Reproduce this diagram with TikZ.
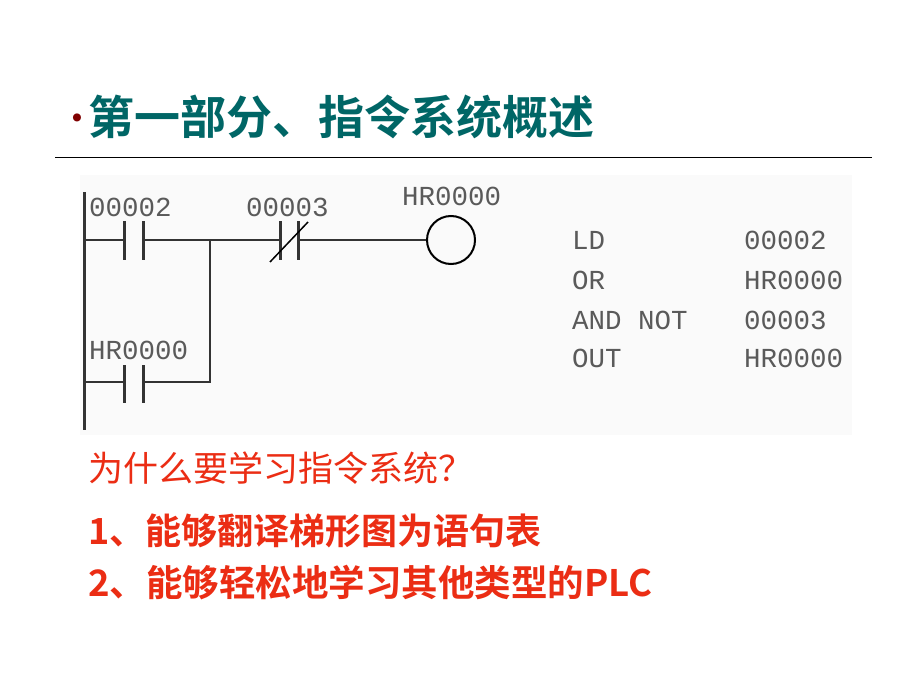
\documentclass[tikz,border=0pt]{standalone}
\usepackage{fontspec}
\newfontfamily\cjk{Noto Sans CJK SC}
\newfontfamily\cjkb{Noto Sans CJK SC Bold}
\newfontfamily\mono{Liberation Mono}
\definecolor{teal1}{RGB}{0,102,102}
\definecolor{red1}{RGB}{235,45,20}
\definecolor{gr}{RGB}{90,90,90}
\begin{document}
\begin{tikzpicture}[x=1pt,y=-1pt,
  lab/.style={font=\mono\fontsize{27.5}{27.5}\selectfont,text=gr,inner sep=0,anchor=west},
  wire/.style={line width=2.2pt,draw=black!80},
  bar/.style={line width=3pt,draw=black!80}]
\useasboundingbox (0,0) rectangle (920,690);
\fill[white] (0,0) rectangle (920,690);
\fill[black!2] (80,175) rectangle (852,435);
% title
\node[inner sep=0,anchor=center,text=red!50!black,font=\fontsize{36}{36}\selectfont] (bul) at (77,121) {•};
\node[inner sep=0,anchor=west,text=teal1,font=\cjkb\fontsize{46}{46}\selectfont] (title) at (88,117) {第一部分、指令系统概述};
\draw[line width=1pt] (55,157) -- (872,157);
% ladder
\coordinate (rt) at (84,192); \coordinate (rb) at (84,430);
\draw[bar] (rt) -- (rb);
\coordinate (a1) at (84,240); \coordinate (c1l) at (124,240); \coordinate (c1r) at (143,240);
\coordinate (br) at (210,240); \coordinate (n1l) at (280,240); \coordinate (n1r) at (298,240);
\coordinate (coil) at (451,240);
\draw[wire] (a1) -- (c1l) (c1r) -- (n1l) (n1r) -- ++(129,0);
\draw[bar] (124,221) -- (124,260) (143,221) -- (143,260);
\draw[bar] (280,221) -- (280,260) (298,221) -- (298,260);
\draw[line width=1.5pt] (270,262) -- (308,222);
\node[draw,circle,line width=2pt,minimum size=48pt,inner sep=0] (co) at (coil) {};
\coordinate (a2) at (84,382); \coordinate (b2) at (210,382);
\draw[wire] (a2) -- (124,382) (143,382) -- (b2) -- (br);
\draw[bar] (124,365) -- (124,403) (143,365) -- (143,403);
\node[lab] (l1) at (89,207) {00002};
\node[lab] (l2) at (246,207) {00003};
\node[lab] (l3) at (402,196) {HR0000};
\node[lab] (l4) at (89,350) {HR0000};
% instruction list
\node[lab] (i1) at (572,240) {LD};
\node[lab] (i2) at (572,280) {OR};
\node[lab] (i3) at (572,320) {AND NOT};
\node[lab] (i4) at (572,358) {OUT};
\node[lab] (j1) at (744,240) {00002};
\node[lab] (j2) at (744,280) {HR0000};
\node[lab] (j3) at (744,320) {00003};
\node[lab] (j4) at (744,358) {HR0000};
% red text
\node[inner sep=0,anchor=west,text=red1,font=\cjk\fontsize{35}{35}\selectfont] (q) at (88,468) {为什么要学习指令系统？};
\node[inner sep=0,anchor=west,text=red1,font=\cjkb\fontsize{36}{36}\selectfont] (p1) at (88,531) {1、能够翻译梯形图为语句表};
\node[inner sep=0,anchor=west,text=red1,font=\cjkb\fontsize{36.5}{36.5}\selectfont] (p2) at (88,583) {2、能够轻松地学习其他类型的PLC};
\end{tikzpicture}
\end{document}
